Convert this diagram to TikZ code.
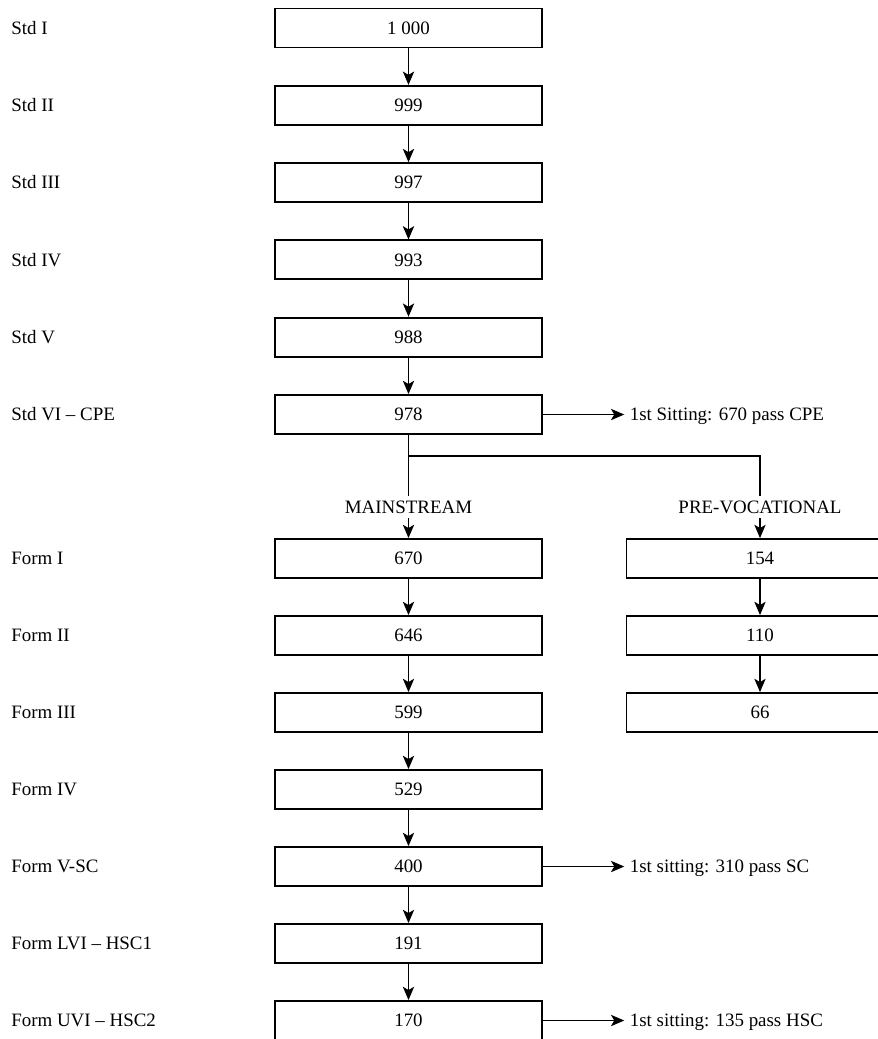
\documentclass[tikz,border=0pt]{standalone}
\usepackage{fontspec}
\setmainfont{Liberation Serif}
\usetikzlibrary{arrows.meta,positioning}

\begin{document}
\begin{tikzpicture}[x=0.75pt,y=-0.75pt,
  every node/.style={font=\fontsize{14.2pt}{17pt}\selectfont, text height=9.3pt, text depth=0pt},
  stage/.style={anchor=west, inner sep=0pt},
  box/.style={draw, line width=1.4pt, minimum width=200.25pt, minimum height=29.25pt, inner sep=0pt},
  pass/.style={inner sep=4pt},
  link/.style={line width=0.8pt},
  flow/.style={link, -{Stealth[length=10pt,width=8.5pt,inset=2.5pt]}}]
\useasboundingbox (0,0) rectangle (878,1039);
\node[stage] (s1) at (11,28) {Std I};
\node[box] (b1) at (408.5,28) {1 000};
\node[stage] (s2) at (11,105.3) {Std II};
\node[box] (b2) at (408.5,105.3) {999};
\node[stage] (s3) at (11,182.6) {Std III};
\node[box] (b3) at (408.5,182.6) {997};
\node[stage] (s4) at (11,259.9) {Std IV};
\node[box] (b4) at (408.5,259.9) {993};
\node[stage] (s5) at (11,337.2) {Std V};
\node[box] (b5) at (408.5,337.2) {988};
\node[stage] (s6) at (11,414.5) {Std VI – CPE};
\node[box] (b6) at (408.5,414.5) {978};
\node[pass, right=61pt of b6] (cpe) {1st Sitting: 670 pass CPE};
\node (ms) at (408.5,507) {MAINSTREAM};
\node (pv) at (760,507) {PRE-VOCATIONAL};
\node[stage] (s7) at (11,558.5) {Form I};
\node[box] (b7) at (408.5,558.5) {670};
\node[box] (p7) at (760,558.5) {154};
\node[stage] (s8) at (11,635.5) {Form II};
\node[box] (b8) at (408.5,635.5) {646};
\node[box] (p8) at (760,635.5) {110};
\node[stage] (s9) at (11,712.5) {Form III};
\node[box] (b9) at (408.5,712.5) {599};
\node[box] (p9) at (760,712.5) {66};
\node[stage] (s10) at (11,789.5) {Form IV};
\node[box] (b10) at (408.5,789.5) {529};
\node[stage] (s11) at (11,866.5) {Form V-SC};
\node[box] (b11) at (408.5,866.5) {400};
\node[pass, right=61pt of b11] (sc) {1st sitting: 310 pass SC};
\node[stage] (s12) at (11,943.5) {Form LVI – HSC1};
\node[box] (b12) at (408.5,943.5) {191};
\node[stage] (s13) at (11,1020.5) {Form UVI – HSC2};
\node[box] (b13) at (408.5,1020.5) {170};
\node[pass, right=61pt of b13] (hsc) {1st sitting: 135 pass HSC};
\coordinate (fork) at (408.5,456);
\draw[flow] (b1) -- (b2);
\draw[flow] (b2) -- (b3);
\draw[flow] (b3) -- (b4);
\draw[flow] (b4) -- (b5);
\draw[flow] (b5) -- (b6);
\draw[flow] (b6) -- (cpe);
\draw[link] (b6) -- (ms);
\draw[link] (fork) -| (pv);
\draw[flow] (ms) -- (b7);
\draw[flow] (pv) -- (p7);
\draw[flow] (b7) -- (b8);
\draw[flow] (b8) -- (b9);
\draw[flow] (b9) -- (b10);
\draw[flow] (b10) -- (b11);
\draw[flow] (b11) -- (sc);
\draw[flow] (b11) -- (b12);
\draw[flow] (b12) -- (b13);
\draw[flow] (b13) -- (hsc);
\draw[flow] (p7) -- (p8);
\draw[flow] (p8) -- (p9);
\end{tikzpicture}
\end{document}
